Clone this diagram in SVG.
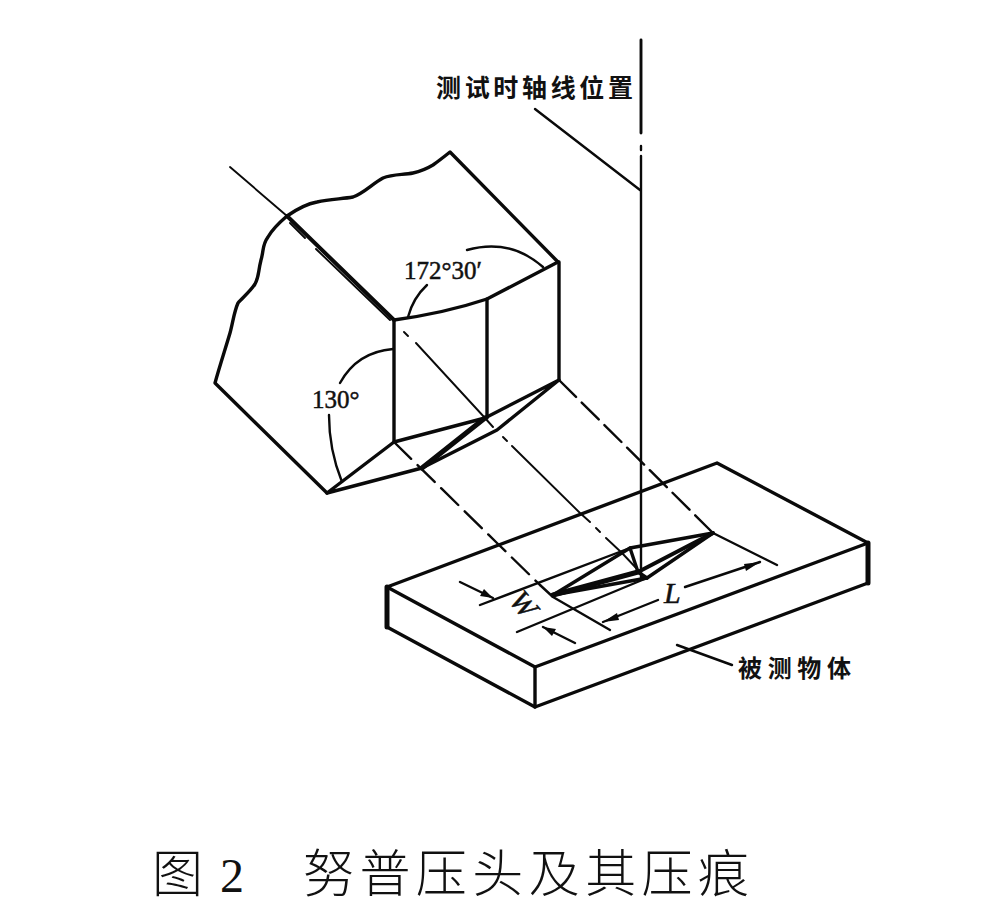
<svg xmlns="http://www.w3.org/2000/svg" width="983" height="916" viewBox="0 0 983 916">
<style>
.k{fill:none;stroke:#0a0a0a;stroke-linecap:round;stroke-linejoin:round}
.t5{stroke-width:5}.t4{stroke-width:4}.t3{stroke-width:3.4}.t2{stroke-width:2.4}.t1{stroke-width:1.9}
.zh{font-family:"Noto Sans CJK SC",sans-serif;font-weight:700;fill:#111}
.num{font-family:"Liberation Serif",serif;fill:#111;stroke:#111;stroke-width:.5}
.cap{font-family:"Noto Sans CJK SC",sans-serif;font-weight:300;fill:#111}
</style>
<rect width="983" height="916" fill="#fff"/>
<g id="connectors">
<path class="k" stroke-width="2.9" d="M641 40V133"/>
<path class="k t2" d="M641 146V150M641 156V578"/>
<path class="k t2" d="M535 109L640 190"/>
<path class="k t1" d="M230 167L287 216M290 223L305 238M316 249L390 320M404 332L408 336M416 343L485 418L493 427M503 437L507 441M512 446L580 513L590 522M596 528L600 532M606 538L622 553L638 570"/>
<path class="k t2" stroke-dasharray="24 9" d="M394 442L497 543L540 585"/>
<path class="k t2" d="M540 585L553 597L610 630"/>
<path class="k t2" stroke-dasharray="24 8" d="M559 380L713 533"/>
<path class="k t2" d="M713 533L777 565"/>
<path class="k t2" d="M480 605L630 548M517 632L647 578"/>
<path class="k t2" d="M460 582L493 598M543 627L575 643"/>
<path class="k t2" d="M603 622L658 600M685 587L760 562"/>
<path class="k t2" d="M677 645L732 665"/>
<path fill="#0a0a0a" d="M493 598L480 596L484 589ZM543 627L556 629L552 636ZM603 622L617 613L619 620ZM760 562L746 571L744 564Z"/>
<path class="k t2" d="M408 317Q413 298 427 285"/>
<path class="k t2" d="M467 250Q510 238 543 267"/>
<path class="k t2" d="M340 383Q357 352 393 349"/>
<path class="k t2" d="M329 415Q329 450 342 482"/>
</g>
<g id="indenter">
<path class="k t3" d="M287 216Q273 228 268 237C262 245 264 250 261 260C258 272 259 277 255 284C250 292 242 298 238 303C234 312 233 322 230 333C225 350 220 365 215 383L327 493"/>
<path class="k t3" d="M287 216C297 209 306 204 317 202C330 199 342 199 353 197C364 193 372 184 383 178C393 174 403 175 413 173C422 171 428 168 433 165C440 160 445 156 450 152L558 262"/>
<path class="k t4" d="M287 216L394 320"/>
<path class="k t3" d="M394 320Q445 313 487 299L558 262"/>
<path class="k t3" d="M394 320V442M487 299V418M559 262V380"/>
<path class="k t3" d="M394 442L485 418L559 380L497 430L422 468L327 493L394 442"/>
<path class="k t5" d="M485 418L422 468"/>
</g>
<g id="plate">
<path class="k t3" d="M387 587L717 463L868 543L535 667Z"/>
<path class="k t3" d="M387 627L535 707L868 583"/>
<path class="k t5" d="M387 587V627M868 543V583"/>
<path class="k t3" d="M535 667V707"/>
</g>
<g id="impression">
<path class="k t3" d="M553 595L630 548L713 533L647 578L553 595"/>
<path class="k t5" d="M553 595L638 572"/>
<path class="k t4" d="M638 572L713 533"/>
<path class="k t3" d="M630 548L638 572L647 578"/>
</g>
<g id="labels">
<text class="zh" x="436" y="97" font-size="25" textLength="197">测试时轴线位置</text>
<text class="zh" x="738" y="677" font-size="24" textLength="113">被测物体</text>
<text class="num" x="404" y="279" font-size="25">172°30′</text>
<text class="num" x="312" y="408" font-size="25">130°</text>
<text class="num" font-size="30" font-style="italic" transform="translate(508 601) rotate(50)">W</text>
<text class="num" x="664" y="603" font-size="30" font-style="italic">L</text>
<text class="cap" x="152" y="892" font-size="51">图</text>
<text x="220" y="892" font-size="48" fill="#111" font-family="Liberation Serif,serif">2</text>
<text class="cap" x="303" y="892" font-size="51" textLength="446">努普压头及其压痕</text>
</g>
</svg>
